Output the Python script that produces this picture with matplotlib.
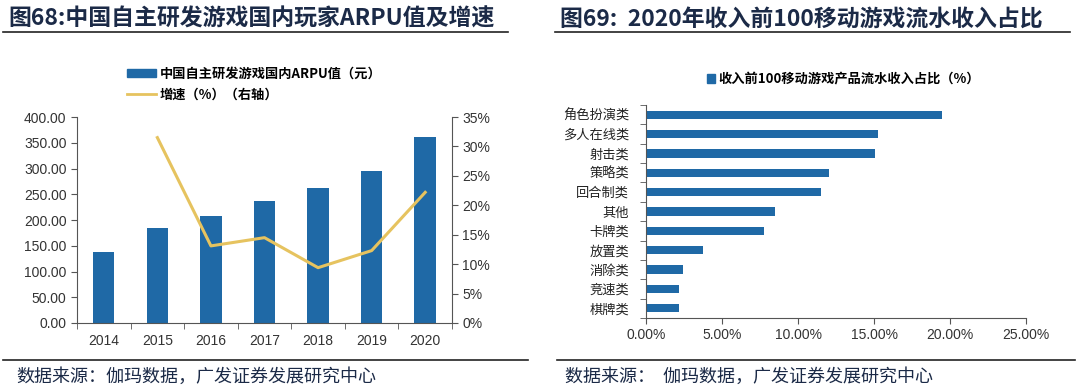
import matplotlib.pyplot as plt
from matplotlib.lines import Line2D
from matplotlib.patches import Patch
from matplotlib.ticker import FuncFormatter, MultipleLocator

plt.rcParams['font.family'] = ['Liberation Sans', 'Noto Sans CJK SC', 'DejaVu Sans']

# Left chart data
years = ['2014', '2015', '2016', '2017', '2018', '2019', '2020']
arpu = [138.3, 183.8, 207.8, 237.7, 261.7, 295.5, 360.4]
growth = [None, 31.5, 13.1, 14.5, 9.4, 12.3, 22.2]

# Right chart data
genres = ['角色扮演类', '多人在线类', '射击类', '策略类', '回合制类', '其他',
          '卡牌类', '放置类', '消除类', '竞速类', '棋牌类']
share = [19.45, 15.29, 15.07, 12.06, 11.49, 8.51, 7.76, 3.77, 2.46, 2.15, 2.15]

W, H = 1080, 392
blue = '#1f69a6'
gold = '#e6c35f'
navy = '#1b2a47'
axcol = '#555555'
cjk = ['Noto Sans CJK SC', 'DejaVu Sans']

fig = plt.figure(figsize=(W / 100, H / 100), dpi=100)

def px(x0, y0, x1, y1):
    return [x0 / W, 1 - y1 / H, (x1 - x0) / W, (y1 - y0) / H]

# titles and rules
fig.text(8 / W, 1 - 19 / H, '图68:中国自主研发游戏国内玩家ARPU值及增速', family=cjk,
         fontsize=16.5, fontweight='bold', color=navy, va='center', ha='left')
fig.text(560 / W, 1 - 19 / H, '图69:  2020年收入前100移动游戏流水收入占比', family=cjk,
         fontsize=16.5, fontweight='bold', color=navy, va='center', ha='left')
for x0, x1, y in [(3, 508, 32), (555, 1070, 32), (3, 528, 360), (557, 1075, 360)]:
    fig.add_artist(Line2D([x0 / W, x1 / W], [1 - y / H, 1 - y / H], color='#222222', lw=1.2))
fig.text(16 / W, 1 - 377 / H, '数据来源：伽玛数据，广发证券发展研究中心', family=cjk,
         fontsize=13, color=navy, va='center')
fig.text(565 / W, 1 - 377 / H, '数据来源：  伽玛数据，广发证券发展研究中心', family=cjk,
         fontsize=13, color=navy, va='center')

# left chart
ax1 = fig.add_axes(px(77, 117, 452, 323))
xs = range(len(years))
ax1.bar(xs, arpu, width=0.4, color=blue)
ax1.set_xlim(-0.5, len(years) - 0.5)
ax1.set_ylim(0, 400)
ax1.yaxis.set_major_locator(MultipleLocator(50))
ax1.yaxis.set_major_formatter(FuncFormatter(lambda v, p: f'{v:.2f}'))
ax1.set_xticks(list(xs))
ax1.set_xticklabels(years)
ax1.set_xticks([i + 0.5 for i in range(-1, len(years))], minor=True)
ax1.tick_params(axis='x', which='major', length=0, pad=8, labelsize=10, colors='#333333')
ax1.tick_params(axis='x', which='minor', length=4, color=axcol)
ax1.tick_params(axis='y', length=4, color=axcol, labelsize=10, labelcolor='#333333')
ax1.spines['top'].set_visible(False)
ax1.spines['right'].set_visible(False)
for s in ['left', 'bottom']:
    ax1.spines[s].set_color(axcol)

ax2 = ax1.twinx()
gx = [i for i, g in enumerate(growth) if g is not None]
gy = [g for g in growth if g is not None]
ax2.plot(gx, gy, color=gold, lw=2.2)
ax2.set_ylim(0, 35)
ax2.yaxis.set_major_locator(MultipleLocator(5))
ax2.yaxis.set_major_formatter(FuncFormatter(lambda v, p: f'{v:.0f}%'))
ax2.tick_params(axis='y', length=4, color=axcol, labelsize=10, labelcolor='#333333')
ax2.spines['top'].set_visible(False)
ax2.spines['left'].set_visible(False)
ax2.spines['bottom'].set_visible(False)
ax2.spines['right'].set_color(axcol)

handles = [Patch(color=blue), Line2D([0], [0], color=gold, lw=2)]
fig.legend(handles, ['中国自主研发游戏国内ARPU值（元）', '增速（%）（右轴）'],
           loc='upper left', bbox_to_anchor=(115 / W, 1 - 55 / H), frameon=False,
           prop={'family': cjk, 'size': 9.5, 'weight': 'bold'}, handlelength=2.2,
           handleheight=0.6, labelspacing=0.5, handletextpad=0.3)

# right chart
ax3 = fig.add_axes(px(646, 105, 1026, 318))
ys = range(len(genres))
ax3.barh(ys, share, height=0.43, color=blue)
ax3.set_ylim(len(genres) - 0.5, -0.5)
ax3.set_xlim(0, 25)
ax3.xaxis.set_major_locator(MultipleLocator(5))
ax3.xaxis.set_major_formatter(FuncFormatter(lambda v, p: f'{v:.2f}%'))
ax3.set_yticks(list(ys))
ax3.set_yticklabels(genres, family=cjk)
ax3.set_yticks([i + 0.5 for i in range(-1, len(genres))], minor=True)
ax3.tick_params(axis='y', which='major', length=0, pad=12, labelsize=9.5, labelcolor='#222222')
ax3.tick_params(axis='y', which='minor', length=4, color=axcol)
ax3.tick_params(axis='x', length=4, color=axcol, labelsize=10, labelcolor='#333333')
ax3.spines['top'].set_visible(False)
ax3.spines['right'].set_visible(False)
for s in ['left', 'bottom']:
    ax3.spines[s].set_color(axcol)

fig.legend([Patch(color=blue)], ['收入前100移动游戏产品流水收入占比（%）'],
           loc='center left', bbox_to_anchor=(695 / W, 1 - 79 / H), frameon=False,
           prop={'family': cjk, 'size': 9.5, 'weight': 'bold'}, handlelength=0.6,
           handleheight=0.6, handletextpad=0.3)

fig.savefig('out.png', dpi=100)
